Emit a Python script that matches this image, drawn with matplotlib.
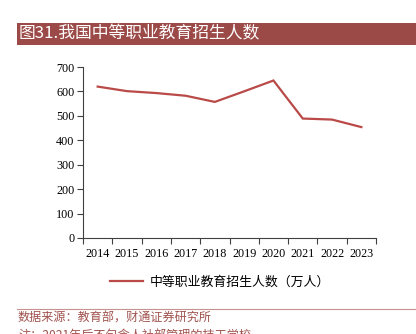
import matplotlib
matplotlib.use("Agg")
from matplotlib import pyplot as plt
from matplotlib.patches import Rectangle
from matplotlib.lines import Line2D

plt.rcParams['font.family'] = ['Noto Sans CJK SC', 'DejaVu Sans']

years = ['2014', '2015', '2016', '2017', '2018', '2019', '2020', '2021', '2022', '2023']
enrolment = [619.8, 601.2, 593.3, 582.4, 557.1, 600.4, 644.7, 489.0, 484.8, 454.0]
yticks = [0, 100, 200, 300, 400, 500, 600, 700]

title = '图31.我国中等职业教育招生人数'
series_name = '中等职业教育招生人数（万人）'
source = '数据来源：教育部，财通证券研究所'
note = '注：2021年后不包含人社部管理的技工学校'

W, H = 416, 334
fig = plt.figure(figsize=(W / 100, H / 100), dpi=100)

# title banner
fig.patches.append(Rectangle((17 / W, 1 - 45 / H), 1, 22 / H, transform=fig.transFigure,
                             facecolor='#9b4a47', edgecolor='none'))
fig.text(19 / W, 1 - 34 / H, title, color='white', fontsize=12.1, va='center', ha='left')

ax = fig.add_axes([83 / W, 1 - 238 / H, 293 / W, 171 / H])
x = range(len(years))
line, = ax.plot(x, enrolment, color='#b94a48', lw=1.6, solid_joinstyle='miter')

ax.set_xlim(-0.5, len(years) - 0.5)
ax.set_ylim(0, 700)
ax.set_yticks(yticks)
ax.set_yticklabels([str(v) for v in yticks], fontfamily='Liberation Serif', fontsize=8.7)
ax.set_xticks(list(x))
ax.set_xticklabels(years, fontfamily='Liberation Serif', fontsize=8.7)
ax.set_xticks([i - 0.5 for i in range(len(years) + 1)], minor=True)
ax.tick_params(axis='x', which='major', length=0, pad=7)
ax.tick_params(axis='x', which='minor', length=4, width=0.8, color='#404040')
ax.tick_params(axis='y', length=4, width=0.8, color='#404040', pad=2)
for side in ('top', 'right'):
    ax.spines[side].set_visible(False)
for side in ('left', 'bottom'):
    ax.spines[side].set_color('#404040')
    ax.spines[side].set_linewidth(0.8)

# legend below the axes
fig.legend([line], [series_name], loc='center', bbox_to_anchor=(220 / W, 1 - 282 / H),
           frameon=False, fontsize=9.3, handlelength=2.6, handletextpad=0.5)

# footer
fig.lines.append(Line2D([17 / W, 1], [1 - 309 / H, 1 - 309 / H], transform=fig.transFigure,
                        color='#c89090', lw=0.8))
fig.text(18 / W, 1 - 318 / H, source, color='#a0524e', fontsize=8.7, va='center', ha='left')
fig.text(18 / W, 1 - 335 / H, note, color='#a0524e', fontsize=8.7, va='center', ha='left')

fig.savefig('out.png', dpi=100)
